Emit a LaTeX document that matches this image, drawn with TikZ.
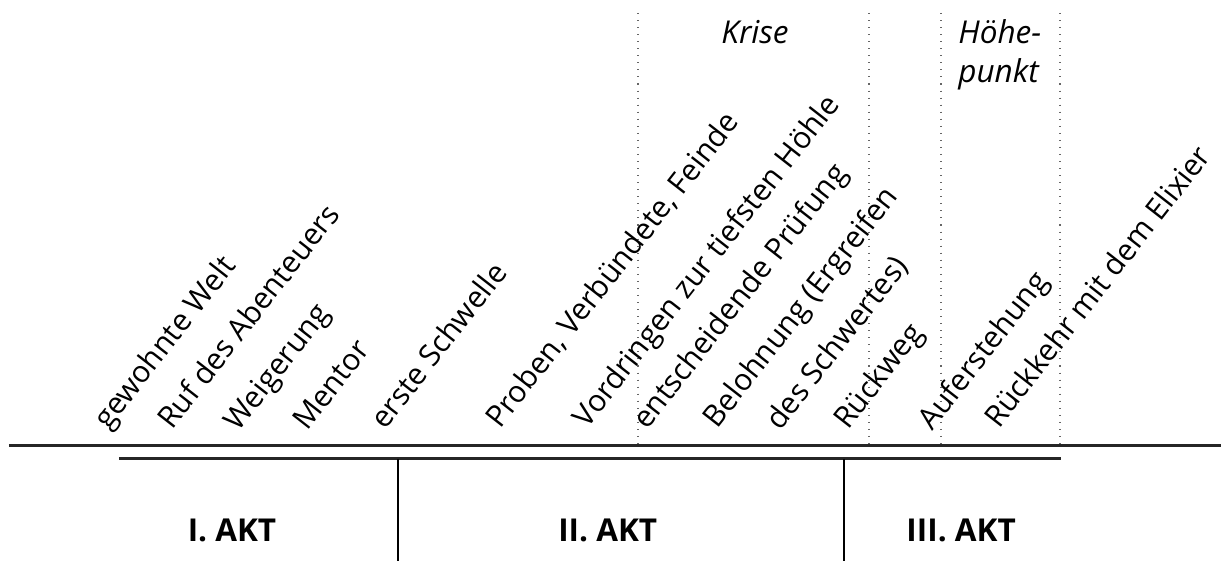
\documentclass[tikz,border=0pt]{standalone}
\usepackage{fontspec}
\setmainfont{Open Sans}
\begin{document}
\begin{tikzpicture}[
	stage/.style={font=\fontsize{10}{12}\selectfont, rotate=52, anchor=base west, inner sep=0pt},
	act/.style={font=\fontsize{10.5}{12}\selectfont\bfseries, anchor=base, inner sep=0pt},
	peak/.style={font=\fontsize{10.5}{12}\selectfont\itshape, inner sep=0pt},
	axis/.style={draw=black!85, line width=1pt},
	cut/.style={draw=black, line width=0.6pt},
	zone/.style={draw=black!60, dotted, line width=0.35pt},
]
\useasboundingbox (0,0) rectangle (14.304,6.572);
% time line and act bar
\coordinate (axisL) at (0.105,1.347);
\coordinate (axisR) at (14.304,1.347);
\coordinate (barL) at (1.394,1.195);
\coordinate (barR) at (12.43,1.195);
\draw[axis] (axisL) -- (axisR);
\draw[axis] (barL) -- (barR);
\coordinate (cutA) at (4.663,1.195);
\coordinate (cutB) at (9.887,1.195);
\draw[cut] (cutA) -- (cutA |- 0,0);
\draw[cut] (cutB) -- (cutB |- 0,0);
% dotted zones
\foreach \x [count=\i] in {7.474,10.18,11.024,12.418} {
	\coordinate (z\i) at (\x,6.42);
	\draw[zone] (z\i) -- (z\i |- axisL);
}
\node[peak, anchor=base] (krise) at (8.845,6.068) {Krise};
\node[peak, anchor=base west] (hoehe) at (11.22,6.068) {Höhe-};
\node[peak, anchor=base west] (punkt) at (11.22,5.611) {punkt};
% stages
\node[stage] (s1) at (1.265,1.52) {gewohnte Welt};
\node[stage] (s2) at (2.015,1.52) {Ruf des Abenteuers};
\node[stage] (s3) at (2.788,1.50) {Weigerung};
\node[stage] (s4) at (3.597,1.51) {Mentor};
\node[stage] (s5) at (4.51,1.52) {erste Schwelle};
\node[stage] (s6) at (5.858,1.535) {Proben, Verbündete, Feinde};
\node[stage] (s7) at (6.877,1.535) {Vordringen zur tiefsten Höhle};
\node[stage] (s8) at (7.58,1.52) {entscheidende Prüfung};
\node[stage] (s9) at (8.40,1.535) {Belohnung (Ergreifen};
\node[stage] (s10) at (9.138,1.51) {des Schwertes)};
\node[stage] (s11) at (9.934,1.52) {Rückweg};
\node[stage] (s12) at (10.918,1.51) {Auferstehung};
\node[stage] (s13) at (11.70,1.535) {Rückkehr mit dem Elixier};
% acts
\node[act] (a1) at (2.718,0.223) {I. AKT};
\node[act] (a2) at (7.12,0.223) {II. AKT};
\node[act] (a3) at (11.26,0.223) {III. AKT};
\end{tikzpicture}
\end{document}
